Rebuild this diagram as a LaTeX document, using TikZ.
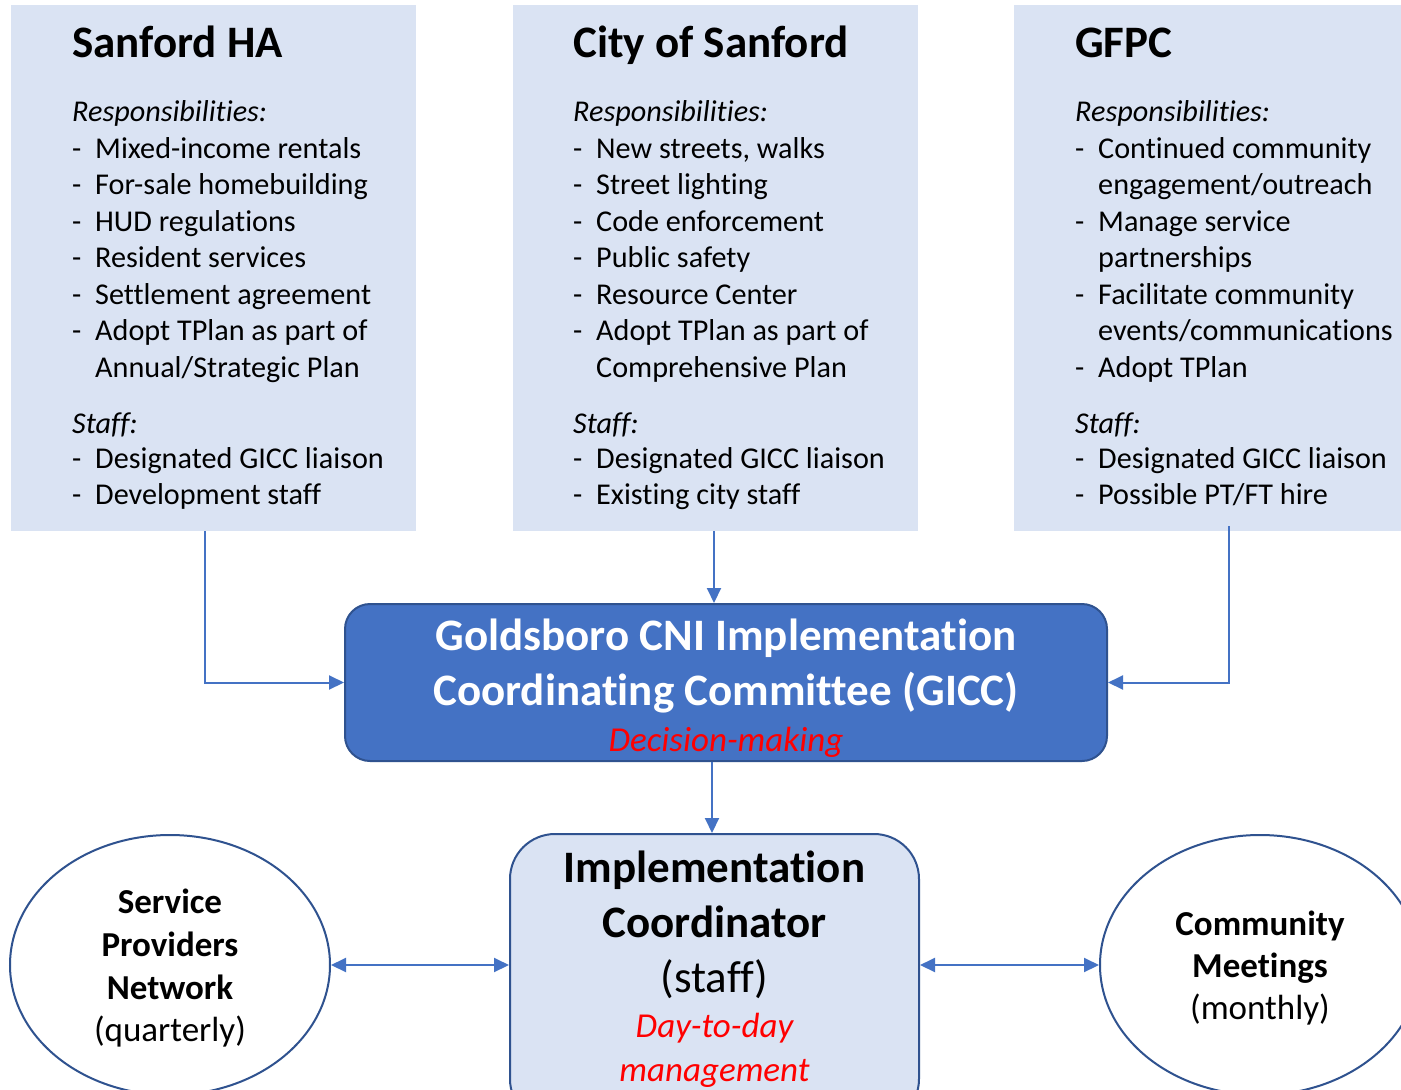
\documentclass[tikz,border=0pt]{standalone}
\usepackage{fontspec}
\setmainfont{Carlito}[Ligatures=NoCommon]
\usetikzlibrary{arrows.meta,shapes.geometric}
\definecolor{boxblue}{HTML}{DAE3F3}
\definecolor{accent}{HTML}{4472C4}
\definecolor{darkedge}{HTML}{2F528F}
\definecolor{redtext}{HTML}{FF0000}
\newcommand\bodyf{\fontsize{30.2}{36.5}\selectfont}
\newcommand\titlef{\fontsize{45}{54}\selectfont\bfseries}
\newcommand\colhead[1]{\multicolumn{2}{@{}l@{}}{#1}}
\newcommand\redit{\fontsize{35}{42}\selectfont\mdseries\itshape\color{redtext}}
\begin{document}
\begin{tikzpicture}[x=1pt,y=-1pt,
  infobox/.style={rectangle, fill=boxblue, draw=none, minimum width=405pt, minimum height=526pt, inner sep=0pt},
  coltext/.style={anchor=base west, inner sep=0pt, font=\bodyf},
  giccbox/.style={rectangle, rounded corners=25pt, fill=accent, draw=darkedge, line width=2pt, minimum width=762pt, minimum height=157pt, inner sep=0pt},
  implbox/.style={rectangle, rounded corners=45pt, fill=boxblue, draw=darkedge, line width=2pt, minimum width=409pt, minimum height=290pt, inner sep=0pt},
  meetell/.style={ellipse, fill=white, draw=darkedge, line width=2pt, minimum width=320pt, minimum height=260pt, inner sep=0pt},
  centtext/.style={anchor=base, inner sep=0pt},
  arr/.style={draw=accent, line width=2pt, -{Triangle[length=15pt,width=14pt]}},
  darr/.style={draw=accent, line width=2pt, {Triangle[length=15pt,width=14pt]}-{Triangle[length=15pt,width=14pt]}}
]
\useasboundingbox (0,0) rectangle (1401,1090);
\clip (0,0) rectangle (1401,1090);
\fill[white] (0,0) rectangle (1401,1090);

% top boxes
\node[infobox] (box1) at (213.5,268) {};
\node[infobox] (box2) at (715.5,268) {};
\node[infobox] (box3) at (1216.5,268) {};

\node[coltext] (t1) at (72,57) {\begin{tabular}[t]{@{}p{23pt}@{}l@{}}
\colhead{\titlef Sanford HA}\\[28pt]
\colhead{\itshape Responsibilities:}\\
-& Mixed-income rentals\\
-& For-sale homebuilding\\
-& HUD regulations\\
-& Resident services\\
-& Settlement agreement\\
-& Adopt TPlan as part of\\
 & Annual/Strategic Plan\\[19.5pt]
\colhead{\itshape Staff:}\\[-1.5pt]
-& Designated GICC liaison\\
-& Development staff
\end{tabular}};

\node[coltext] (t2) at (573,57) {\begin{tabular}[t]{@{}p{23pt}@{}l@{}}
\colhead{\titlef City of Sanford}\\[28pt]
\colhead{\itshape Responsibilities:}\\
-& New streets, walks\\
-& Street lighting\\
-& Code enforcement\\
-& Public safety\\
-& Resource Center\\
-& Adopt TPlan as part of\\
 & Comprehensive Plan\\[19.5pt]
\colhead{\itshape Staff:}\\[-1.5pt]
-& Designated GICC liaison\\
-& Existing city staff
\end{tabular}};

\node[coltext] (t3) at (1075,57) {\begin{tabular}[t]{@{}p{23pt}@{}l@{}}
\colhead{\titlef GFPC}\\[28pt]
\colhead{\itshape Responsibilities:}\\
-& Continued community\\
 & engagement/outreach\\
-& Manage service\\
 & partnerships\\
-& Facilitate community\\
 & events/communications\\
-& Adopt TPlan\\[19.5pt]
\colhead{\itshape Staff:}\\[-1.5pt]
-& Designated GICC liaison\\
-& Possible PT/FT hire
\end{tabular}};

% GICC
\node[giccbox] (gicc) at (726,682.5) {};
\node[centtext, text=white, font=\fontsize{45}{55}\selectfont\bfseries] (gicct) at (726,650) {\begin{tabular}[t]{@{}c@{}}
Goldsboro CNI Implementation\\
Coordinating Committee (GICC)\\[-9pt]
{\redit Decision-making}
\end{tabular}};

% Implementation coordinator
\node[implbox] (impl) at (714.5,979) {};
\node[centtext, font=\fontsize{45}{55}\selectfont\bfseries] (implt) at (714.5,882) {\begin{tabular}[t]{@{}c@{}}
Implementation\\
Coordinator\\[0pt]
{\mdseries (staff)}\\[-10pt]
{\redit Day-to-day}\\[-11pt]
{\redit management}
\end{tabular}};

% ellipses
\node[meetell] (spn) at (170,965) {};
\node[centtext, font=\fontsize{35}{43}\selectfont\bfseries] (spnt) at (170,913) {\begin{tabular}[t]{@{}c@{}}
Service\\ Providers\\ Network\\[-1pt] {\mdseries (quarterly)}
\end{tabular}};
\node[meetell] (cm) at (1260,965) {};
\node[centtext, font=\fontsize{35}{43}\selectfont\bfseries] (cmt) at (1260,935) {\begin{tabular}[t]{@{}c@{}}
Community\\[-1pt] Meetings\\[-1pt] {\mdseries (monthly)}
\end{tabular}};

% connectors
\coordinate (x1) at (205,0);
\coordinate (x2) at (714,0);
\coordinate (x3) at (1229,0);
\coordinate (x4) at (712,0);
\draw[arr] (box1.south -| x1) |- (gicc.west);
\draw[arr] (box2.south -| x2) -- (gicc.north -| x2);
\draw[arr] ([yshift=5pt]box3.south -| x3) |- (gicc.east);
\draw[arr] (gicc.south -| x4) -- (impl.north -| x4);
\draw[darr] (spn.east) -- (spn.east -| impl.west);
\draw[darr] (impl.east |- cm.west) -- (cm.west);
\end{tikzpicture}
\end{document}
